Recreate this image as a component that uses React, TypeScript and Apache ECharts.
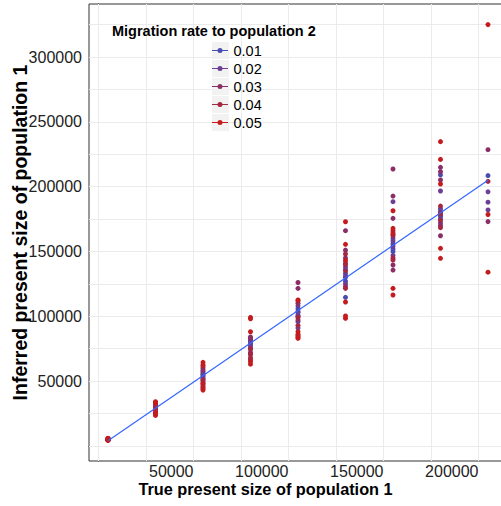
import React, { useEffect, useRef } from "react";
import * as echarts from "echarts";

// True present sizes (x categories)
const trueSizes = [5000, 30000, 55000, 80000, 105000, 130000, 155000, 180000, 205000];

const migrationRates = ["0.01", "0.02", "0.03", "0.04", "0.05"];
const rateColors = ["#4A4DB0", "#6C3F94", "#8A2E68", "#A52842", "#C41C1E"];

// Inferred sizes, one inner list per true size
const inferredRate001 = [
  [4800, 5000, 5100, 4900],
  [29500, 30200, 31000, 28800],
  [54000, 55500, 56500, 53000],
  [79000, 80500, 82000, 77500],
  [104000, 106000, 101000, 95800],
  [130000, 133000, 127000, 114600, 136000],
  [156000, 152000, 160000, 150000, 163000],
  [209000, 180000, 177000, 183000, 175000],
  [208500],
];
const inferredRate002 = [
  [4700, 5200, 5000, 4600],
  [28000, 31500, 30500, 29000],
  [52000, 57500, 55000, 50500],
  [76000, 81500, 78500, 74500],
  [108000, 100000, 90900, 103000],
  [138000, 125000, 141000, 131000],
  [188400, 158000, 147000, 154000],
  [196600, 172000, 181000, 178000],
  [196000, 188000, 182000],
];
const inferredRate003 = [
  [4500, 5300, 4900, 5400],
  [27000, 32500, 30000, 26500],
  [49000, 60000, 58500, 47500],
  [72000, 84000, 70500, 83000],
  [126000, 121500, 110000, 97000],
  [166000, 151000, 145000, 123000],
  [213600, 192700, 175500, 139500, 135600],
  [214900, 211500, 205100, 162100, 170000],
  [228500, 173000],
];
const inferredRate004 = [
  [4400, 5500, 4800, 5600],
  [25500, 33000, 28500, 31800],
  [46000, 61500, 51000, 45000],
  [68000, 75000, 66500, 71000],
  [112000, 99000, 93000, 86000],
  [148000, 135000, 121500, 140000],
  [166000, 145000, 162000, 143400],
  [185000, 168300, 174000, 179000],
  [204000],
];
const inferredRate005 = [
  [4200, 5700, 4600, 5800, 5200],
  [23500, 34000, 24500, 33500, 26000],
  [43000, 64400, 62500, 44000, 48000],
  [63000, 99000, 98000, 88000, 65000],
  [112500, 85000, 83000, 84000, 88000],
  [172900, 155500, 111000, 100200, 98400, 143000],
  [181400, 167800, 121500, 116400, 164000],
  [234700, 221000, 202000, 152400, 144700],
  [325000, 178500, 134000],
];
const inferredByRate = [inferredRate001, inferredRate002, inferredRate003, inferredRate004, inferredRate005];

// Fitted line endpoints
const fitLine = [
  [5000, 4000],
  [205000, 205000],
];

const xTickLabels = [50000, 100000, 150000, 200000];
const yTickLabels = [50000, 100000, 150000, 200000, 250000, 300000];
const xGridValues = [0, 25000, 50000, 75000, 100000, 125000, 150000, 175000, 200000];
const yGridValues = [0, 25000, 50000, 75000, 100000, 125000, 150000, 175000, 200000, 225000, 250000, 275000, 300000, 325000];

const FONT = "'Liberation Sans', Arial, Helvetica, sans-serif";

export default function App() {
  const ref = useRef<HTMLDivElement>(null);
  useEffect(() => {
    if (!ref.current) return;
    const chart = echarts.init(ref.current, undefined, { renderer: "svg" });

    const scatterSeries = migrationRates.map((rate, r) => ({
      name: rate,
      type: "scatter",
      symbol: "circle",
      symbolSize: 5,
      z: 2,
      itemStyle: { color: rateColors[r], opacity: 1 },
      data: trueSizes.flatMap((x, i) => inferredByRate[r][i].map((y) => [x, y])),
    }));

    const legendIcon =
      "path://M0,2h16v1h-16zM5.5,2.5a2.5,2.5,0,1,1,5,0a2.5,2.5,0,1,1,-5,0z";

    chart.setOption({
      animation: false,
      textStyle: { fontFamily: FONT },
      title: {
        text: "Migration rate to population 2",
        left: 112,
        top: 23,
        padding: 0,
        textStyle: { fontSize: 14.5, fontWeight: "bold", color: "#000", fontFamily: FONT },
      },
      legend: {
        data: migrationRates,
        orient: "vertical",
        left: 212,
        top: 42,
        padding: 0,
        itemGap: 1,
        itemWidth: 17,
        itemHeight: 5,
        icon: legendIcon,
        z: 6,
        textStyle: { fontSize: 14.5, color: "#000", lineHeight: 17, fontFamily: FONT },
        selectedMode: false,
      },
      graphic: migrationRates.map((_, i) => ({
        type: "rect",
        z: 5,
        silent: true,
        shape: { x: 212, y: 42 + 18 * i, width: 17, height: 17 },
        style: { fill: "#f2f2f2" },
      })),
      grid: {
        left: 89,
        top: 4,
        right: 0,
        bottom: 45,
        outerBoundsMode: "none",
        containLabel: false,
        show: true,
        borderColor: "#333",
        borderWidth: 1,
        backgroundColor: "#fff",
      },
      xAxis: {
        type: "value",
        min: -5000,
        max: 215000,
        splitLine: { show: false },
        axisLine: { show: true, lineStyle: { color: "#333", width: 1 } },
        axisTick: { show: true, length: 4, customValues: xTickLabels, lineStyle: { color: "#333" } },
        axisLabel: {
          customValues: xTickLabels,
          formatter: (v: number) => String(v),
          align: "right",
          margin: 2,
          fontSize: 16,
          color: "#222",
          fontFamily: FONT,
        },
        name: "True present size of population 1",
        nameLocation: "middle",
        nameGap: 20,
        nameMoveOverlap: false,
        nameTextStyle: {
          fontSize: 16.3,
          fontWeight: "bold",
          color: "#000",
          padding: [0, 65, 0, 0],
          fontFamily: FONT,
        },
      },
      yAxis: {
        type: "value",
        min: -11700,
        max: 340900,
        splitLine: { show: false },
        axisLine: { show: true, lineStyle: { color: "#333", width: 1 } },
        axisTick: { show: true, length: 4, customValues: yTickLabels, lineStyle: { color: "#333" } },
        axisLabel: {
          customValues: yTickLabels,
          formatter: (v: number) => String(v),
          margin: 7,
          fontSize: 16,
          color: "#222",
          fontFamily: FONT,
        },
        name: "Inferred present size of population 1",
        nameLocation: "middle",
        nameGap: 59,
        nameMoveOverlap: false,
        nameTextStyle: { fontSize: 19.5, fontWeight: "bold", color: "#000", fontFamily: FONT },
      },
      series: [
        {
          name: "grid",
          type: "line",
          data: fitLine,
          showSymbol: false,
          silent: true,
          z: 1,
          lineStyle: { opacity: 0 },
          markLine: {
            silent: true,
            z: 1,
            symbol: ["none", "none"],
            label: { show: false },
            emphasis: { disabled: true },
            lineStyle: { color: "#ebebeb", width: 1, type: "solid" },
            data: [
              ...xGridValues.map((v) => ({ xAxis: v })),
              ...yGridValues.map((v) => ({ yAxis: v })),
            ],
          },
        },
        ...scatterSeries,
        {
          name: "fit",
          type: "line",
          data: fitLine,
          showSymbol: false,
          z: 3,
          lineStyle: { color: "#3366FF", width: 1.2 },
        },
      ],
    });
    return () => chart.dispose();
  }, []);

  return (
    <div style={{ position: "fixed", left: 0, top: 0, width: 501, height: 506, overflow: "hidden", background: "#fff" }}>
      <div ref={ref} style={{ width: 507, height: 506 }} />
    </div>
  );
}
